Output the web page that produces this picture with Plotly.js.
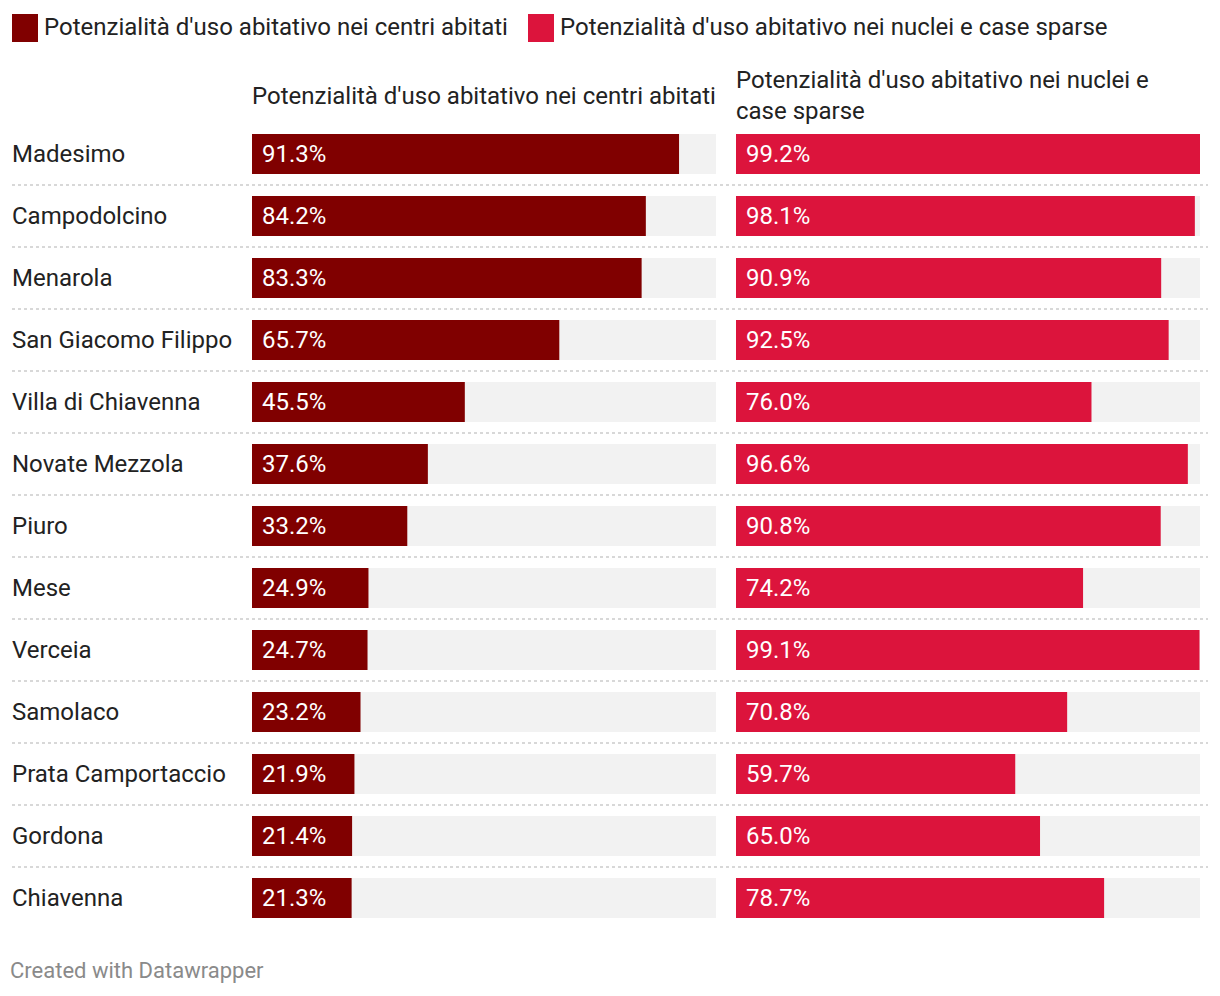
<!DOCTYPE html>
<html><head><meta charset="utf-8">
<script src="https://cdn.plot.ly/plotly-3.0.1.min.js"></script>
<style>body{margin:0;background:#fff}#chart{width:1220px;height:996px}</style>
</head><body><div id="chart"></div>
<script>
const comuni = ["Madesimo","Campodolcino","Menarola","San Giacomo Filippo","Villa di Chiavenna","Novate Mezzola","Piuro","Mese","Verceia","Samolaco","Prata Camportaccio","Gordona","Chiavenna"];
const centriAbitati = [91.3,84.2,83.3,65.7,45.5,37.6,33.2,24.9,24.7,23.2,21.9,21.4,21.3];
const nucleiCaseSparse = [99.2,98.1,90.9,92.5,76.0,96.6,90.8,74.2,99.1,70.8,59.7,65.0,78.7];
const serieNomi = ["Potenzialità d'uso abitativo nei centri abitati","Potenzialità d'uso abitativo nei nuclei e case sparse"];
const intestazioni = ["Potenzialità d'uso abitativo nei centri abitati","Potenzialità d'uso abitativo nei nuclei e<br>case sparse"];

const W = 1220, H = 996;
const px = v => v / W, py = v => 1 - v / H;
const COL1 = "#800000", COL2 = "#dc143c", BG = "#f2f2f2", TXT = "#222222";
const FONT = "Roboto, 'Open Sans', sans-serif";
const FS = 24;
const maxVal = Math.max(...centriAbitati, ...nucleiCaseSparse);
const bgVals = comuni.map(() => maxVal);

const traces = [
  {type:'bar', orientation:'h', y:comuni, x:bgVals, xaxis:'x', yaxis:'y', marker:{color:BG}, hoverinfo:'skip', showlegend:false},
  {type:'bar', orientation:'h', y:comuni, x:centriAbitati, xaxis:'x', yaxis:'y', marker:{color:COL1}, name:serieNomi[0], showlegend:false},
  {type:'bar', orientation:'h', y:comuni, x:bgVals, xaxis:'x2', yaxis:'y', marker:{color:BG}, hoverinfo:'skip', showlegend:false},
  {type:'bar', orientation:'h', y:comuni, x:nucleiCaseSparse, xaxis:'x2', yaxis:'y', marker:{color:COL2}, name:serieNomi[1], showlegend:false}
];

const annotations = [];
const shapes = [];
comuni.forEach((c, i) => {
  annotations.push({xref:'paper', yref:'y', x:px(10), y:c, text:c, showarrow:false, xanchor:'left', yanchor:'middle', font:{family:FONT, size:FS, color:TXT}});
  annotations.push({xref:'x', yref:'y', x:0, y:c, text:centriAbitati[i].toFixed(1)+'%', showarrow:false, xanchor:'left', yanchor:'middle', xshift:8, font:{family:FONT, size:FS, color:'#ffffff'}});
  annotations.push({xref:'x2', yref:'y', x:0, y:c, text:nucleiCaseSparse[i].toFixed(1)+'%', showarrow:false, xanchor:'left', yanchor:'middle', xshift:8, font:{family:FONT, size:FS, color:'#ffffff'}});
  if (i < comuni.length - 1) {
    shapes.push({type:'line', xref:'paper', yref:'y', x0:px(12), x1:px(1208), y0:i+0.5, y1:i+0.5, line:{color:'#cccccc', width:1.5, dash:'dot'}});
  }
});
// headers
annotations.push({xref:'paper', yref:'paper', x:px(250), y:py(96), text:intestazioni[0], showarrow:false, xanchor:'left', yanchor:'middle', align:'left', font:{family:FONT, size:FS, color:TXT}});
annotations.push({xref:'paper', yref:'paper', x:px(734), y:py(96), text:intestazioni[1], showarrow:false, xanchor:'left', yanchor:'middle', align:'left', font:{family:FONT, size:FS, color:TXT}});
// legend
const legX = [12, 528];
const legCol = [COL1, COL2];
serieNomi.forEach((n, k) => {
  shapes.push({type:'rect', xref:'paper', yref:'paper', x0:px(legX[k]), x1:px(legX[k]+26), y0:py(14), y1:py(42), fillcolor:legCol[k], line:{width:0}});
  annotations.push({xref:'paper', yref:'paper', x:px(legX[k]+30), y:py(27), text:n, showarrow:false, xanchor:'left', yanchor:'middle', font:{family:FONT, size:FS, color:TXT}});
});
// footer
annotations.push({xref:'paper', yref:'paper', x:px(8), y:py(970), text:'Created with Datawrapper', showarrow:false, xanchor:'left', yanchor:'middle', font:{family:FONT, size:22, color:'#8a8a8a'}});

const layout = {
  width:W, height:H, margin:{l:0, r:0, t:0, b:0}, paper_bgcolor:'#fff', plot_bgcolor:'#fff',
  barmode:'overlay', bargap:0.355, showlegend:false,
  xaxis:{domain:[px(252), px(716)], range:[0, maxVal], visible:false, fixedrange:true},
  xaxis2:{domain:[px(736), px(1200)], range:[0, maxVal], visible:false, fixedrange:true, anchor:'y'},
  yaxis:{domain:[py(929), py(123)], type:'category', autorange:'reversed', visible:false, fixedrange:true},
  annotations, shapes, font:{family:FONT}
};
Plotly.newPlot('chart', traces, layout, {displayModeBar:false, staticPlot:true});
</script></body></html>
